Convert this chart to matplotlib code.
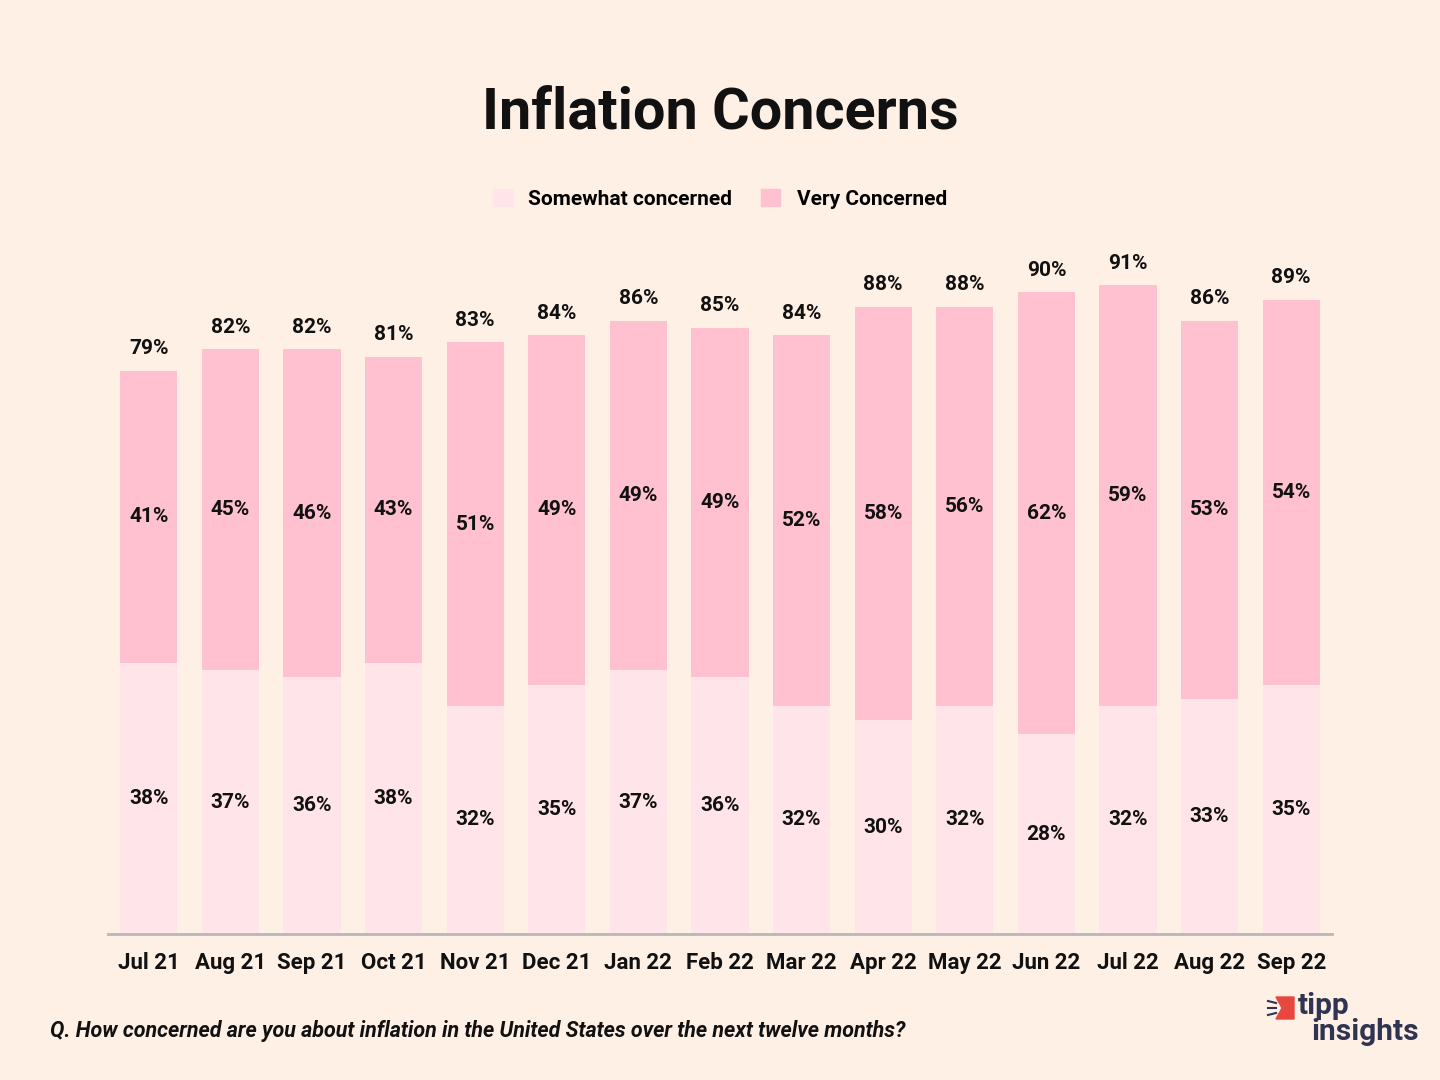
import matplotlib.pyplot as plt
from matplotlib.patches import Patch, Polygon
import matplotlib.lines as mlines
import numpy as np

months = ["Jul 21", "Aug 21", "Sep 21", "Oct 21", "Nov 21", "Dec 21", "Jan 22", "Feb 22",
          "Mar 22", "Apr 22", "May 22", "Jun 22", "Jul 22", "Aug 22", "Sep 22"]
somewhat = [38, 37, 36, 38, 32, 35, 37, 36, 32, 30, 32, 28, 32, 33, 35]
very = [41, 45, 46, 43, 51, 49, 49, 49, 52, 58, 56, 62, 59, 53, 54]
total = [79, 82, 82, 81, 83, 84, 86, 85, 84, 88, 88, 90, 91, 86, 89]

bg_color = "#FFF0E6"
somewhat_color = "#FFE4EA"
very_color = "#FFC1D0"
text_color = "#111111"
font = "Roboto"

plt.rcParams["font.family"] = [font, "DejaVu Sans"]

fig = plt.figure(figsize=(14.4, 10.8), dpi=100)
fig.set_facecolor(bg_color)
ax = fig.add_axes([0.075, 0.1352, 0.85, 0.66])
ax.set_facecolor(bg_color)

x = np.arange(len(months))
ax.bar(x, somewhat, width=0.7, color=somewhat_color, zorder=2)
ax.bar(x, very, width=0.7, bottom=somewhat, color=very_color, zorder=2)

# segment labels at segment centres
lbl = dict(ha="center", va="center", fontsize=15, fontweight="bold", color=text_color)
for i in range(len(months)):
    ax.text(x[i], somewhat[i] / 2, f"{somewhat[i]}%", **lbl)
    ax.text(x[i], somewhat[i] + very[i] / 2, f"{very[i]}%", **lbl)
    ax.annotate(f"{total[i]}%", (x[i], total[i]), xytext=(0, 16), textcoords="offset points", **lbl)

ax.set(xlim=(-0.5, 14.5), ylim=(0, 100))
ax.set_xticks(x)
ax.set_xticklabels(months, fontsize=16, fontweight="bold", color=text_color)
ax.tick_params(axis="x", length=0, pad=13)
ax.set_yticks([])
for side in ["left", "right", "top"]:
    ax.spines[side].set_visible(False)
ax.spines["bottom"].set_color("#B8B8B8")
ax.spines["bottom"].set_linewidth(2)
ax.spines["bottom"].set_zorder(3)

fig.text(0.5, 0.895, "Inflation Concerns", ha="center", va="center",
         fontsize=41.5, fontweight="bold", color=text_color)

handles = [Patch(color=somewhat_color, label="Somewhat concerned"),
           Patch(color=very_color, label="Very Concerned")]
fig.legend(handles=handles, loc="center", bbox_to_anchor=(0.5, 0.816), ncol=2, frameon=False,
           prop={"size": 15, "weight": "bold"}, handlelength=0.9, handleheight=0.9,
           handletextpad=0.8, columnspacing=1.4)

fig.text(0.035, 0.045, "Q. How concerned are you about inflation in the United States over the next twelve months?",
         ha="left", va="center", fontsize=15.5, fontweight="bold", fontstyle="italic", color=text_color)

# logo
navy = "#2E3452"
fig.text(0.9015, 0.0615, "tipp", ha="left", va="baseline", fontsize=21.5, fontweight="bold", color=navy)
fig.text(0.9105, 0.037, "insights", ha="left", va="baseline", fontsize=21.5, fontweight="bold", color=navy)
flag = Polygon([(1276 / 1440, 1 - 997 / 1080), (1294 / 1440, 1 - 997 / 1080),
                (1294 / 1440, 1 - 1019 / 1080), (1276 / 1440, 1 - 1019 / 1080),
                (1282 / 1440, 1 - 1008 / 1080)], closed=True, transform=fig.transFigure,
               color="#E8473F")
fig.patches.append(flag)
for y0, y1 in [(1001, 1003), (1008, 1008), (1015, 1013)]:
    fig.lines.append(mlines.Line2D([1268 / 1440, 1276 / 1440], [1 - y0 / 1080, 1 - y1 / 1080],
                                   transform=fig.transFigure, color=navy, linewidth=1.5))

fig.savefig("out.png", dpi=100, facecolor=bg_color)
